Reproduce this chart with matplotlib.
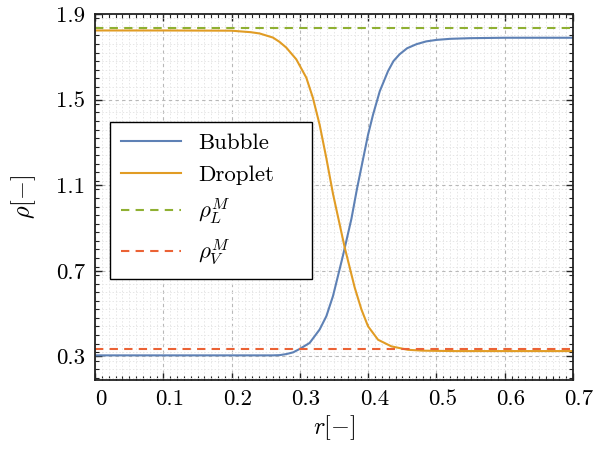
import matplotlib as mpl
import matplotlib.pyplot as plt
import matplotlib.transforms as mtransforms
from matplotlib.ticker import MultipleLocator

mpl.rcParams['font.family'] = 'serif'
mpl.rcParams['font.serif'] = ['cmr10']
mpl.rcParams['mathtext.fontset'] = 'cm'
mpl.rcParams['axes.formatter.use_mathtext'] = True
mpl.rcParams['font.size'] = 16.5

# density profiles across the interface
r_bubble = [0.0, 0.10, 0.20, 0.24, 0.26, 0.27, 0.28, 0.29, 0.2996, 0.3142, 0.3289, 0.3387,
            0.3484, 0.3557, 0.363, 0.3754, 0.3836, 0.3997, 0.407, 0.4169, 0.429, 0.437,
            0.446, 0.457, 0.4707, 0.485, 0.50, 0.52, 0.549, 0.60, 0.70]
rho_bubble = [0.305, 0.305, 0.305, 0.305, 0.305, 0.306, 0.311, 0.319, 0.335, 0.363, 0.426, 0.488,
              0.582, 0.676, 0.771, 0.943, 1.084, 1.335, 1.429, 1.539, 1.633, 1.680,
              1.712, 1.740, 1.759, 1.772, 1.779, 1.784, 1.787, 1.789, 1.789]

r_droplet = [0.0, 0.10, 0.20, 0.2116, 0.228, 0.241, 0.2604, 0.270, 0.280, 0.2947, 0.3094, 0.319,
             0.3289, 0.3387, 0.3484, 0.3655, 0.3802, 0.390, 0.3997, 0.4144, 0.434, 0.4583,
             0.48, 0.527, 0.60, 0.70]
rho_droplet = [1.823, 1.823, 1.822, 1.819, 1.815, 1.809, 1.790, 1.770, 1.743, 1.688, 1.602, 1.508,
               1.382, 1.226, 1.060, 0.810, 0.622, 0.520, 0.441, 0.378, 0.347, 0.331,
               0.327, 0.325, 0.325, 0.325]

rho_L_M = 1.833
rho_V_M = 0.335

c_blue, c_orange, c_green, c_red = '#5E81B5', '#E19C24', '#8FB032', '#EB6235'

fig = plt.figure(figsize=(5.98, 4.5), dpi=100)
ax = fig.add_axes([0.159, 0.1556, 0.7993, 0.8133])

ax.plot(r_bubble, rho_bubble, color=c_blue, lw=1.5, label='Bubble')
ax.plot(r_droplet, rho_droplet, color=c_orange, lw=1.5, label='Droplet')
ax.axhline(rho_L_M, color=c_green, lw=1.5, ls=(0, (4, 3)), label=r'$\rho_L^M$')
ax.axhline(rho_V_M, color=c_red, lw=1.5, ls=(0, (4, 3)), label=r'$\rho_V^M$')

ax.set_xlim(0, 0.7)
ax.set_ylim(0.19, 1.9)
ax.set_xticks([0, 0.1, 0.2, 0.3, 0.4, 0.5, 0.6, 0.7],
              ['0', '0.1', '0.2', '0.3', '0.4', '0.5', '0.6', '0.7'])
ax.xaxis.set_minor_locator(MultipleLocator(0.01))
ax.set_yticks([0.3, 0.7, 1.1, 1.5, 1.9], ['0.3', '0.7', '1.1', '1.5', '1.9'])
ax.yaxis.set_minor_locator(MultipleLocator(0.04))

ax.tick_params(which='both', direction='in', top=True, right=True, colors='#222222')
ax.tick_params(which='major', length=5, width=1.0, pad=7, labelcolor='black')
ax.tick_params(which='minor', length=3, width=0.8)
for lab in ax.get_xticklabels():
    lab.set_transform(lab.get_transform() + mtransforms.ScaledTranslation(0.06, 0, fig.dpi_scale_trans))

for s in ax.spines.values():
    s.set_linewidth(1.3)
    s.set_color('#222222')

ax.grid(which='major', color='#b8b8b8', ls=(0, (3, 3)), lw=0.8)
ax.grid(which='minor', color='#e6e6e6', ls=(0, (1.5, 2)), lw=0.7)
ax.set_axisbelow(True)

ax.set_xlabel(r'$r[-]$', fontsize=17.5, labelpad=3)
ax.set_ylabel(r'$\rho[-]$', fontsize=17.5, labelpad=13)

leg = ax.legend(loc='upper left', bbox_to_anchor=(0.031, 0.295, 0.4226, 0.41), mode='expand',
                fancybox=False, edgecolor='black', framealpha=1, handlelength=2.6,
                handletextpad=0.75, borderpad=0.5, labelspacing=0.5, borderaxespad=0)
leg.get_frame().set_linewidth(1.0)

fig.savefig('out.png', dpi=100)
